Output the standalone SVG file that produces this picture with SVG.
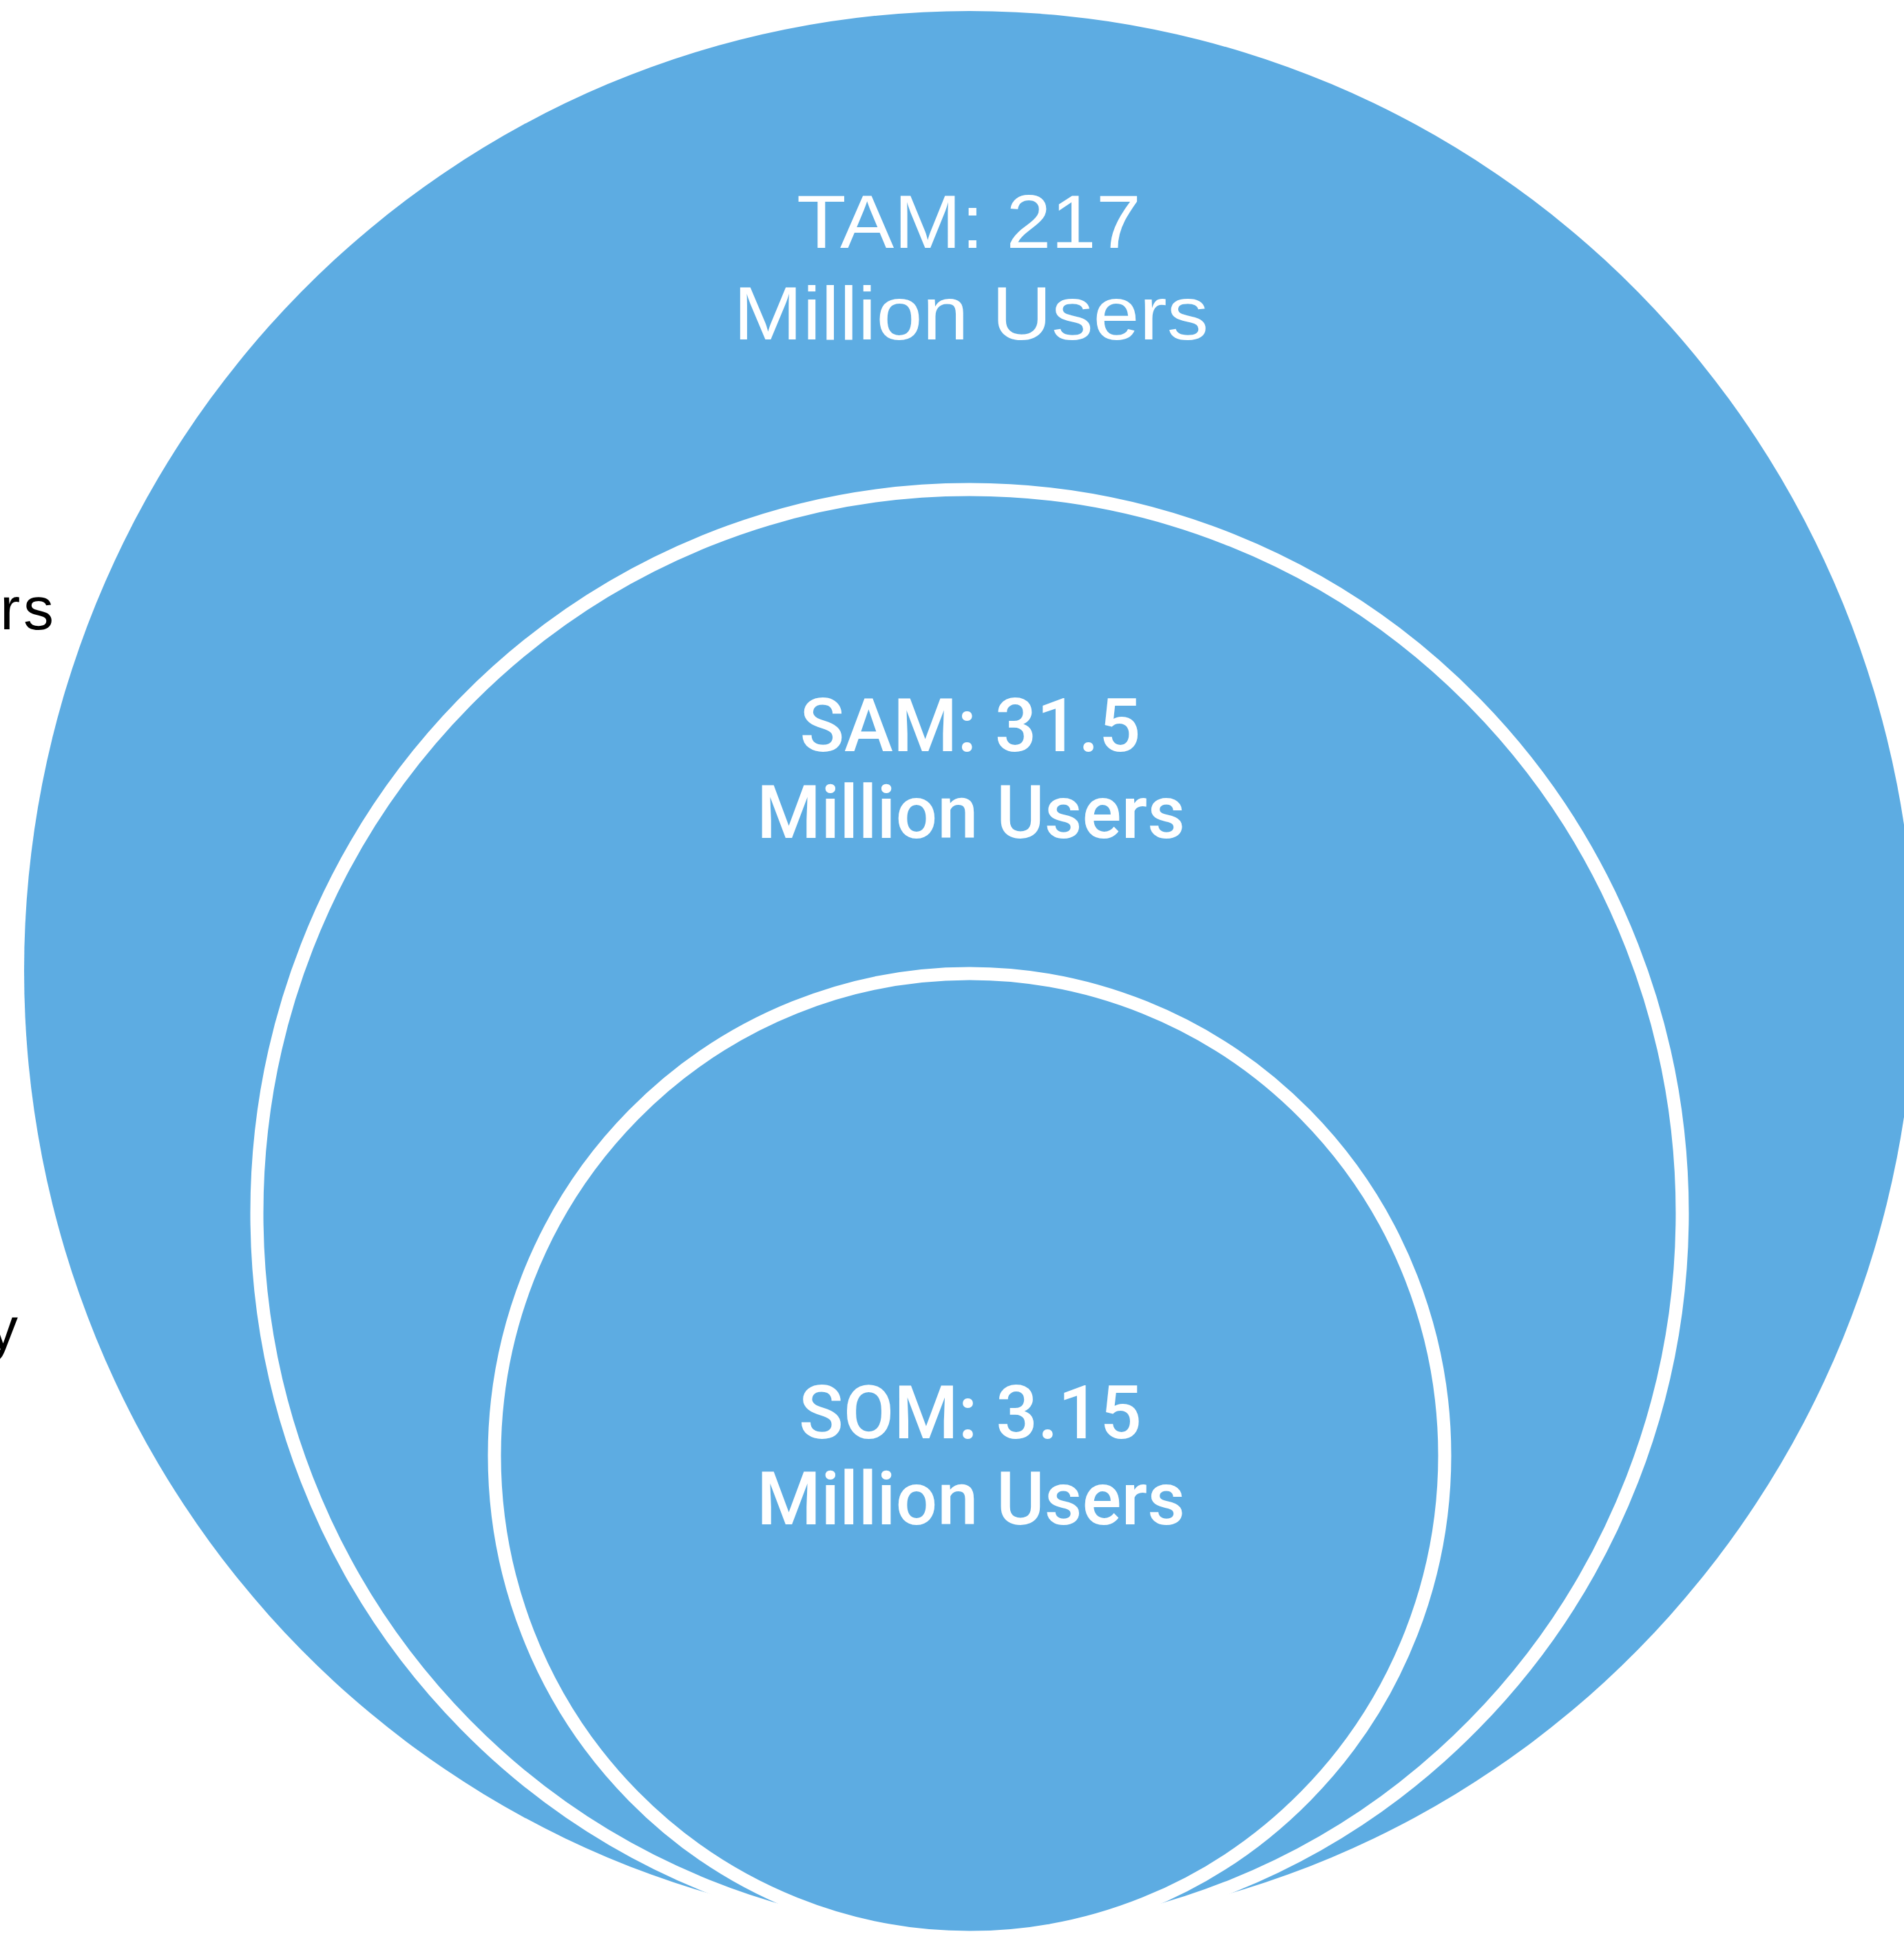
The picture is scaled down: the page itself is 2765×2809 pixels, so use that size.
<svg xmlns="http://www.w3.org/2000/svg" width="2765" height="2809" viewBox="0 0 2765 2809">
<style>
.disk{fill:#5DACE2;}
.ring{fill:#5DACE2;stroke:#FFFFFF;stroke-width:19;}
.tam{font-family:"Liberation Sans",Arial,sans-serif;font-size:110px;fill:#FFFFFF;text-anchor:middle;}
.lbl{font-family:Roboto,"Liberation Sans",sans-serif;font-size:107px;font-weight:500;fill:#FFFFFF;text-anchor:middle;}
.side{font-family:"Liberation Sans",Arial,sans-serif;font-size:88px;fill:#000000;}
</style>
<rect x="0" y="0" width="2765" height="2809" fill="#FFFFFF"/>
<g id="side-labels">
<text class="side" x="0" y="914" textLength="78" lengthAdjust="spacing">rs</text>
<text class="side" x="-18" y="1960">y</text>
</g>
<g id="tam">
<ellipse class="disk" cx="1408" cy="1410" rx="1373" ry="1394"/>
<text class="tam" x="1407" y="360" textLength="500" lengthAdjust="spacingAndGlyphs">TAM: 217</text>
<text class="tam" x="1410" y="493" textLength="690" lengthAdjust="spacingAndGlyphs">Million Users</text>
</g>
<g id="sam">
<ellipse class="ring" cx="1408" cy="1762" rx="1035" ry="1051"/>
<text class="lbl" x="1409" y="1091" textLength="495" lengthAdjust="spacingAndGlyphs">SAM: 31.5</text>
<text class="lbl" x="1410" y="1217" textLength="622" lengthAdjust="spacingAndGlyphs">Million Users</text>
</g>
<g id="som">
<ellipse class="ring" cx="1408" cy="2114" rx="690" ry="700"/>
<text class="lbl" x="1409" y="2089" textLength="498" lengthAdjust="spacingAndGlyphs">SOM: 3.15</text>
<text class="lbl" x="1410" y="2214" textLength="622" lengthAdjust="spacingAndGlyphs">Million Users</text>
</g>
<g id="connectors"></g>
</svg>
